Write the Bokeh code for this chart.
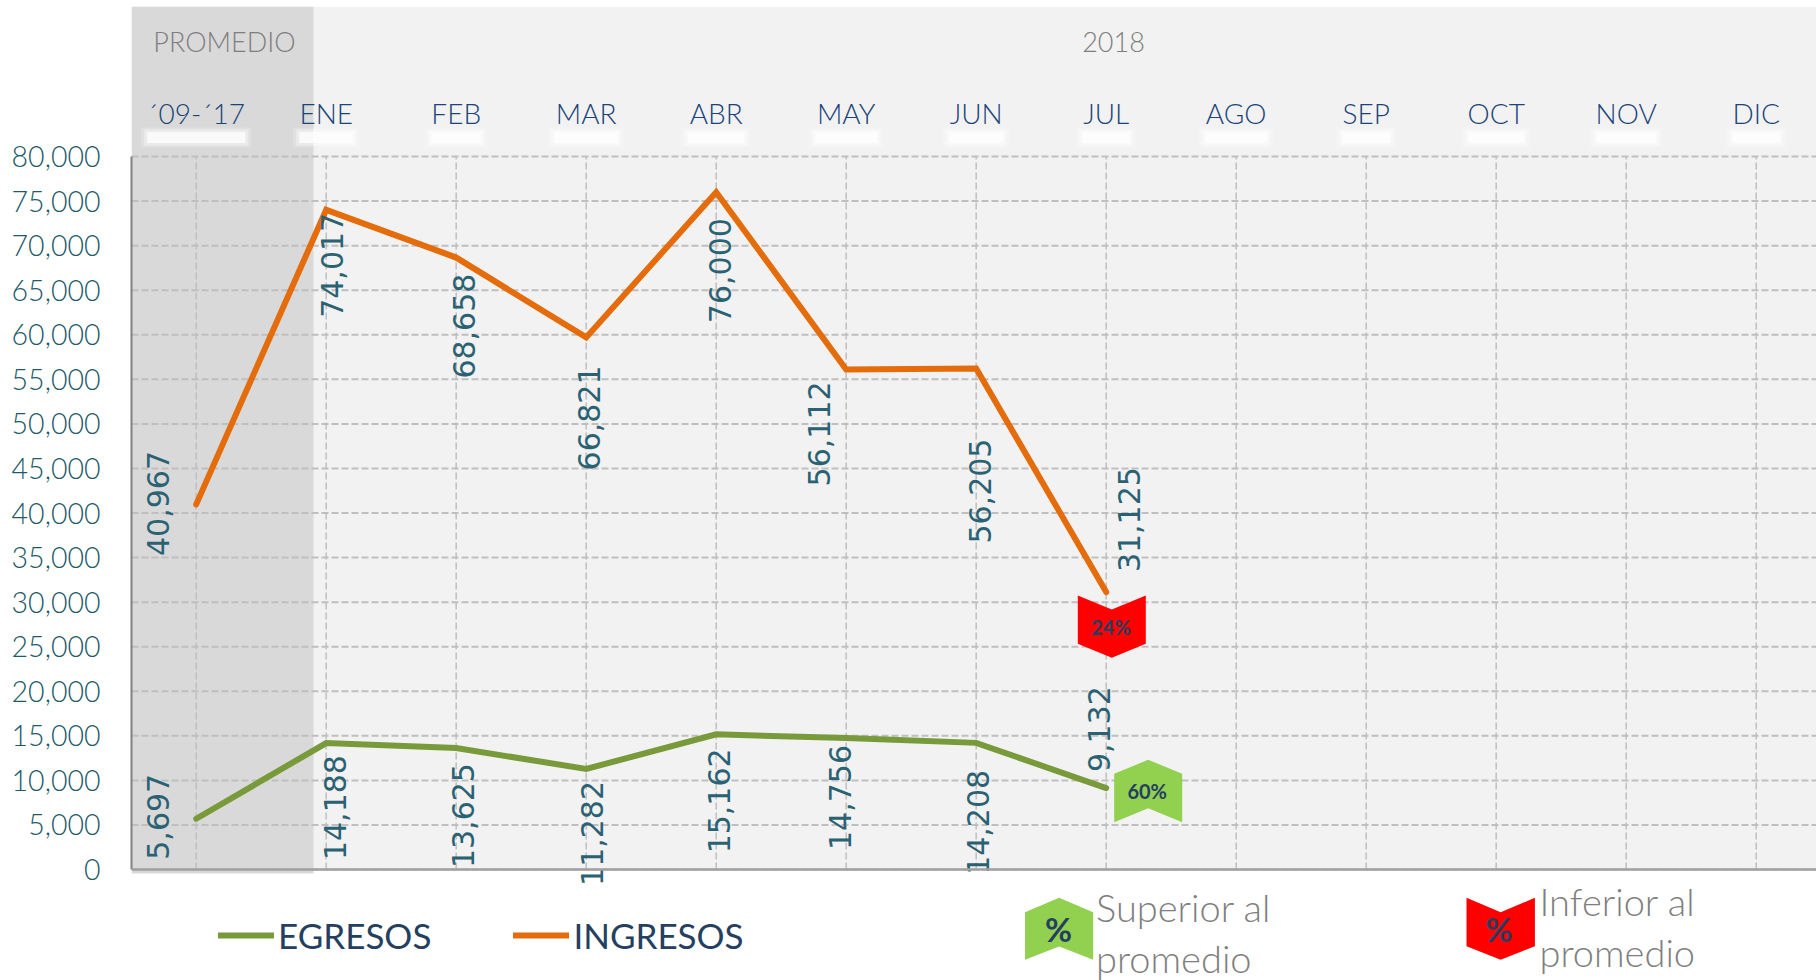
from bokeh.plotting import figure
from bokeh.embed import file_html
from bokeh.resources import INLINE
from bokeh.models import ColumnDataSource, FixedTicker, NumeralTickFormatter, Span, Legend, LegendItem, Range1d
from bokeh.core.properties import value

# ---- data
categories = ["´09-´17", "ENE", "FEB", "MAR", "ABR", "MAY", "JUN", "JUL", "AGO", "SEP", "OCT", "NOV", "DIC"]
ingresos = [40967, 74017, 68658, 59700, 76000, 56112, 56205, 31125]
egresos = [5697, 14188, 13625, 11282, 15162, 14756, 14208, 9132]
ingresos_labels = ["40,967", "74,017", "68,658", "66,821", "76,000", "56,112", "56,205", "31,125"]
egresos_labels = ["5,697", "14,188", "13,625", "11,282", "15,162", "14,756", "14,208", "9,132"]
y_ticks = list(range(0, 80001, 5000))

# ---- layout (page pixels of the reference)
W, H = 1816, 980
LEFT, TOP = 131, 6
ZERO_PX, MAX_PX = 869, 156
X0_PX, STEP_PX = 195.7, 130.0
K = (ZERO_PX - MAX_PX) / 80000

def dx(px):
    return (px - X0_PX) / STEP_PX

def dy(px):
    return (ZERO_PX - px) / K

ing_off_x = [-38, 6, 7.5, 3, 4, -27, 4, 23]
ing_off_y = [51.6, 108, 121, 133, 131, 117, 175, -20]
egr_off_x = [-38, 9, 7, 6, 3, -6, 2, -7]
egr_off_y = [41, 117, 120, 117, 119, 112, 132, -16]

TEAL = "#215968"
NAVY = "#1b4478"
DARK = "#243f60"
GREY = "#7f7f7f"
GRID = "#bfbfbf"
ORANGE = "#e46c0a"
GREEN = "#789a3a"
RED = "#ff0000"
LIME = "#92d050"
FONT = "Lato"
LIGHT = "Lato Light"

p = figure(width=W, height=H, output_backend="svg", toolbar_location=None,
           x_range=Range1d(dx(LEFT), dx(W)), y_range=Range1d(dy(H), dy(TOP)),
           x_axis_location=None, min_border_left=LEFT, min_border_right=0,
           min_border_top=TOP, min_border_bottom=0, outline_line_color=None,
           background_fill_color="white", border_fill_color="white")
p.styles = {"position": "absolute", "left": "0px", "top": "0px"}
p.grid.visible = False

# panels
p.quad(left=[dx(LEFT)], right=[dx(W)], bottom=[0], top=[dy(TOP)], fill_color="#f2f2f2", line_color=None)
p.quad(left=[dx(LEFT)], right=[dx(313)], bottom=[dy(873)], top=[dy(TOP)], fill_color="#d9d9d9", line_color=None)

# grid
xs = list(range(len(categories)))
p.segment(x0=[dx(LEFT)] * len(y_ticks), x1=[dx(W)] * len(y_ticks), y0=y_ticks, y1=y_ticks,
          line_color=GRID, line_width=2, line_dash="7 3")
p.segment(x0=xs, x1=xs, y0=[0] * len(xs), y1=[80000] * len(xs),
          line_color=GRID, line_width=1.5, line_dash="7 3")
p.add_layout(Span(location=0, dimension="width", line_color="#a0a0a0", line_width=2.5))

# y axis
ax = p.yaxis[0]
ax.ticker = FixedTicker(ticks=y_ticks)
ax.formatter = NumeralTickFormatter(format="0,0")
ax.bounds = (0, 80000)
ax.major_tick_line_color = None
ax.minor_tick_line_color = None
ax.axis_line_color = "#808080"
ax.axis_line_width = 2
ax.major_label_standoff = 25
ax.major_label_text_font = LIGHT
ax.major_label_text_font_size = "28.5px"
ax.major_label_text_color = TEAL

# month labels with soft white glow
label_w = [96, 52, 48, 62, 54, 60, 52, 46, 60, 46, 54, 58, 46]
glow_y = [dy(137)] * len(xs)
for extra, h, a in [(14, 20, 0.2), (8, 16, 0.35), (2, 11, 0.75)]:
    p.rect(x=xs, y=glow_y, width=[w + extra for w in label_w], height=h, width_units="screen",
           height_units="screen", fill_color="white", fill_alpha=a, line_color=None)
p.text(x=xs, y=[dy(112)] * len(xs), text=categories, text_font=value(LIGHT), text_font_size="28px",
       text_color=NAVY, text_align="center", text_baseline="middle")
p.text(x=[dx(224)], y=[dy(41)], text=["PROMEDIO"], text_font=value(LIGHT), text_font_size="27px",
       text_color=GREY, text_align="center", text_baseline="middle")
p.text(x=[dx(1113)], y=[dy(41)], text=["2018"], text_font=value(LIGHT), text_font_size="27px",
       text_color=GREY, text_align="center", text_baseline="middle")

# series
r_eg = p.line(xs[:len(egresos)], egresos, line_color=GREEN, line_width=6, line_cap="round", line_join="miter")
r_in = p.line(xs[:len(ingresos)], ingresos, line_color=ORANGE, line_width=6, line_cap="round", line_join="miter")

# data labels
for vals, labs, ox, oy in [(ingresos, ingresos_labels, ing_off_x, ing_off_y),
                           (egresos, egresos_labels, egr_off_x, egr_off_y)]:
    src = ColumnDataSource(dict(x=xs[:len(vals)], y=vals, t=labs, ox=ox, oy=oy))
    p.text(x="x", y="y", text="t", x_offset="ox", y_offset="oy", source=src, angle=1.5708,
           text_font=value("DejaVu Sans"), text_font_size="30px", text_color="#2a6273",
           text_align="left", text_baseline="middle")

# chevrons
def down_chevron(l, r, top, notch, side, tip):
    m = (l + r) / 2
    return [dx(l), dx(m), dx(r), dx(r), dx(m), dx(l)], [dy(top), dy(notch), dy(top), dy(side), dy(tip), dy(side)]

def up_chevron(l, r, tip, shoulder, side, notch):
    m = (l + r) / 2
    return [dx(l), dx(m), dx(r), dx(r), dx(m), dx(l)], [dy(shoulder), dy(tip), dy(shoulder), dy(side), dy(notch), dy(side)]

for (a, b), c in [(down_chevron(1077.3, 1145.3, 595, 609, 643.3, 657.3), RED),
                  (up_chevron(1113.7, 1181.7, 759.3, 773.3, 821.7, 807.7), LIME),
                  (up_chevron(1024.5, 1092.7, 897.3, 911.7, 959.3, 946), LIME),
                  (down_chevron(1466, 1534.4, 897.3, 911.7, 945.7, 959.3), RED)]:
    p.patch(a, b, fill_color=c, line_color=None)

for tx, ty, s, size in [(1110.5, 626, "24%", "20px"), (1146.7, 790, "60%", "20px"),
                        (1058, 928, "%", "33px"), (1498.5, 928, "%", "33px")]:
    p.text(x=[dx(tx)], y=[dy(ty)], text=[s], text_font=value(FONT), text_font_size=size, text_font_style="bold",
           text_color=DARK, text_align="center", text_baseline="middle")

# notes beside the chevrons
for tx, ty, s in [(1095.5, 906.5, "Superior al"), (1095.5, 957, "promedio"),
                  (1539, 900.5, "Inferior al"), (1539, 951, "promedio")]:
    p.text(x=[dx(tx)], y=[dy(ty)], text=[s], text_font=value(LIGHT), text_font_size="38px",
           text_color=GREY, text_align="left", text_baseline="middle")

legend = Legend(items=[LegendItem(label="EGRESOS", renderers=[r_eg]), LegendItem(label="INGRESOS", renderers=[r_in])],
                orientation="horizontal", location=(87, 24), background_fill_alpha=0, border_line_color=None,
                glyph_width=56, glyph_height=24, label_standoff=4, spacing=82, padding=0, margin=0,
                label_text_font=FONT, label_text_font_size="35px", label_text_color=DARK)
p.add_layout(legend)

open("out.html", "w").write(file_html(p, INLINE))
